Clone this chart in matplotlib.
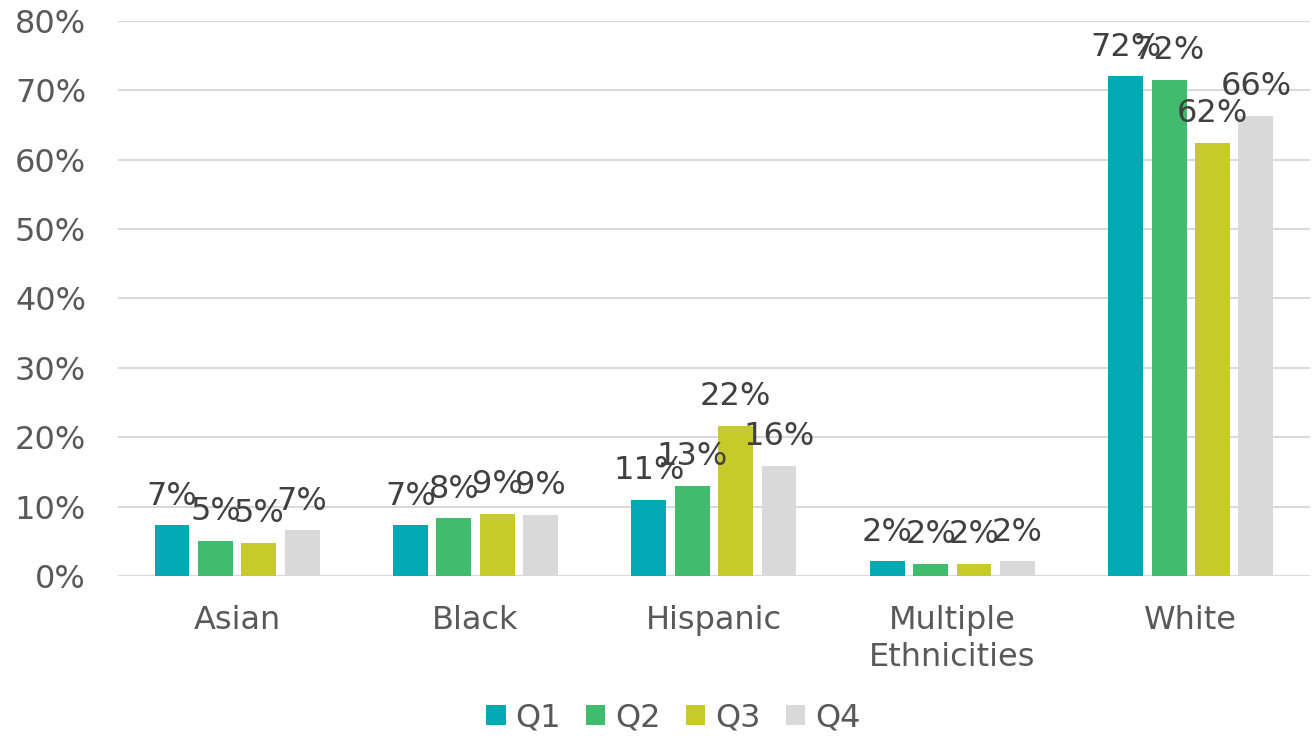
import numpy as np
import matplotlib
matplotlib.use("Agg")
from matplotlib import pyplot as plt
from matplotlib.ticker import PercentFormatter

categories = ["Asian", "Black", "Hispanic", "Multiple\nEthnicities", "White"]
quarters = ["Q1", "Q2", "Q3", "Q4"]
q1 = [7.3, 7.3, 11.0, 2.1, 72.0]
q2 = [5.1, 8.3, 13.0, 1.8, 71.5]
q3 = [4.8, 9.0, 21.6, 1.8, 62.4]
q4 = [6.6, 8.8, 15.9, 2.1, 66.3]
colors = ["#00A9B4", "#41BB6E", "#C8CA2B", "#D9D9D9"]

plt.rcParams["font.family"] = ["DejaVu Sans"]
fig = plt.figure(figsize=(13.15, 7.36), dpi=100)
ax = fig.add_axes([0.0897, 0.2174, 0.9065, 0.7541])

fs = 23
x = np.arange(len(categories))
pitch = 0.182
width = 0.146
series = [q1, q2, q3, q4]
for i, (vals, c, name) in enumerate(zip(series, colors, quarters)):
    pos = x + (i - 1.5) * pitch
    bars = ax.bar(pos, vals, width=width, color=c, label=name, zorder=3)
    for b, v in zip(bars, vals):
        ax.annotate("{0}%".format(int(round(v))), (b.get_x() + b.get_width() / 2, v),
                    xytext=(0, 21), textcoords="offset points",
                    ha="center", va="center", fontsize=fs, color="#404040", zorder=4)

ax.set_xlim(-0.5, 4.5)
ax.set_ylim(0, 80)
ax.set_yticks(np.arange(0, 81, 10))
ax.yaxis.set_major_formatter(PercentFormatter(decimals=0))
ax.set_xticks(x)
ax.set_xticklabels(categories, linespacing=1.25)
ax.grid(axis="y", color="#D9D9D9", linewidth=1.5, zorder=0)
for s in ax.spines.values():
    s.set_visible(False)
ax.tick_params(axis="both", length=0, labelsize=fs, labelcolor="#595959")
ax.tick_params(axis="y", pad=23)
ax.tick_params(axis="x", pad=21)

handles, labels = ax.get_legend_handles_labels()
fig.legend(handles, labels, loc="center", bbox_to_anchor=(0.512, 0.0245), ncol=4,
           frameon=False, fontsize=fs, labelcolor="#595959", handlelength=0.6,
           handleheight=0.6, handletextpad=0.3, columnspacing=0.8)

fig.savefig("out.png", dpi=100)
